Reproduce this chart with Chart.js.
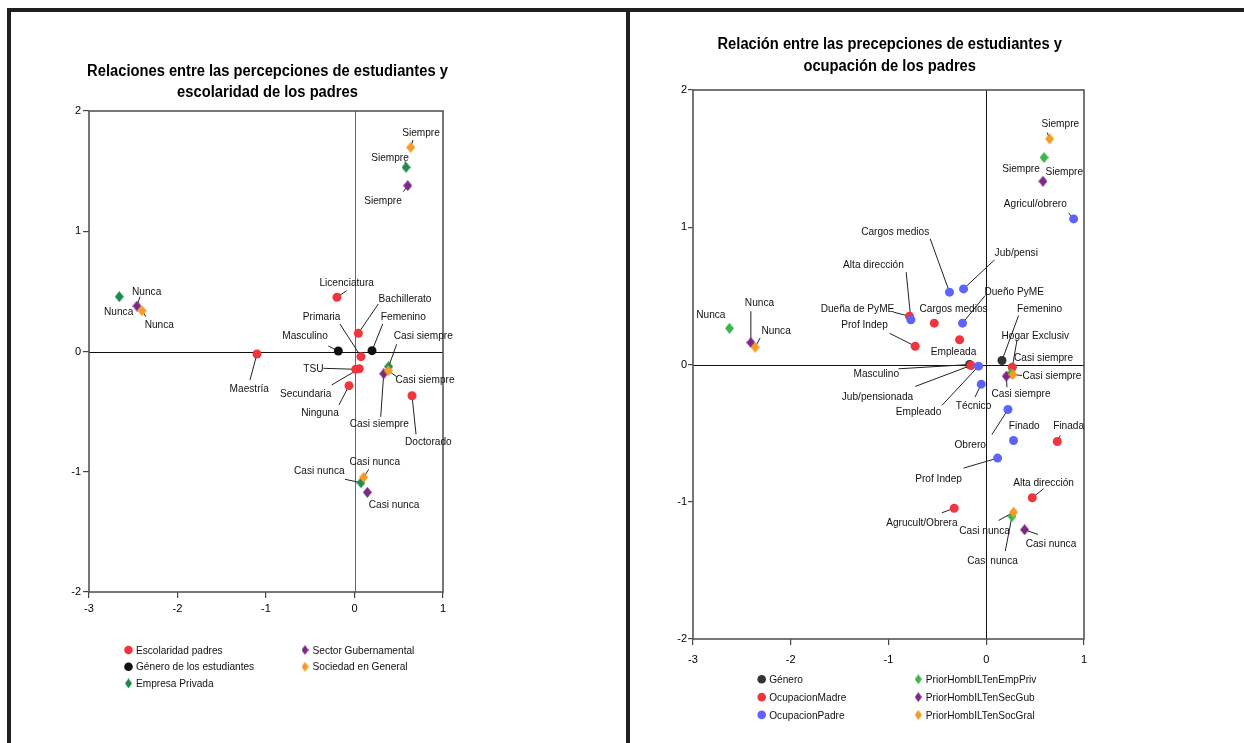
<!DOCTYPE html>
<html>
<head>
<meta charset="utf-8">
<script src="https://cdn.jsdelivr.net/npm/chart.js@4/dist/chart.umd.min.js"></script>
<style>
  html, body { margin: 0; padding: 0; background: #fff; }
  body { width: 1244px; height: 743px; position: relative; overflow: hidden; }
  .bar { position: absolute; background: #231f20; }
  .panel { position: absolute; top: 12px; height: 731px; }
  canvas { display: block; }
</style>
</head>
<body>
<div class="bar" style="left:7px;top:8px;width:1237px;height:4px"></div>
<div class="bar" style="left:7px;top:8px;width:4px;height:735px"></div>
<div class="bar" style="left:626px;top:8px;width:4px;height:735px"></div>
<div class="panel" style="left:11px;width:615px"><canvas id="c1" width="615" height="731"></canvas></div>
<div class="panel" style="left:630px;width:614px"><canvas id="c2" width="614" height="731"></canvas></div>

<script>
const FONT = '"Liberation Sans", Arial, sans-serif';
const TEXT_SQUEEZE = 0.88;

// ---------- shared axes ----------
const ejeX = [-3, -2, -1, 0, 1];
const ejeY = [-2, -1, 0, 1, 2];
const percepciones = ['Siempre', 'Casi siempre', 'Casi nunca', 'Nunca'];

// ---------- panel 1: escolaridad de los padres ----------
const tituloEscolaridad = ['Relaciones entre las percepciones de estudiantes y', 'escolaridad de los padres'];

const escolaridadNombres = ['Licenciatura', 'Bachillerato', 'Primaria', 'Maestría', 'TSU', 'Secundaria', 'Ninguna', 'Doctorado'];
const escolaridadX = [-0.198, 0.043, 0.073, -1.102, 0.014, 0.054, -0.062, 0.650];
const escolaridadY = [0.451, 0.151, -0.043, -0.021, -0.148, -0.143, -0.284, -0.368];

const generoNombres = ['Masculino', 'Femenino'];
const generoEstX = [-0.183, 0.198];
const generoEstY = [0.004, 0.007];

const empresaPrivadaX = [0.582, 0.386, 0.073, -2.658];
const empresaPrivadaY = [1.532, -0.126, -1.091, 0.456];
const sectorGubX = [0.601, 0.330, 0.145, -2.458];
const sectorGubY = [1.379, -0.185, -1.171, 0.378];
const sociedadX = [0.635, 0.382, 0.104, -2.401];
const sociedadY = [1.698, -0.160, -1.046, 0.339];

// ---------- panel 2: ocupación de los padres ----------
const tituloOcupacion = ['Relación entre las precepciones de estudiantes y', 'ocupación de los padres'];

const generoX = [-0.170, 0.161];
const generoY = [0.000, 0.029];

const madreNombres = ['Dueña de PyME', 'Cargos medios', 'Prof Indep', 'Empleada', 'Jub/pensionada', 'Hogar Exclusiv', 'Finada', 'Alta dirección', 'Agrucult/Obrera'];
const madreX = [-0.785, -0.532, -0.727, -0.273, -0.157, 0.266, 0.727, 0.471, -0.328];
const madreY = [0.352, 0.301, 0.133, 0.180, -0.007, -0.020, -0.561, -0.971, -1.047];

const padreNombres = ['Agricul/obrero', 'Cargos medios', 'Jub/pensi', 'Alta dirección', 'Dueño PyME', 'Empleado', 'Técnico', 'Obrero', 'Finado', 'Prof Indep'];
const padreX = [0.894, -0.376, -0.232, -0.771, -0.243, -0.079, -0.051, 0.222, 0.279, 0.116];
const padreY = [1.061, 0.527, 0.551, 0.326, 0.301, -0.012, -0.143, -0.328, -0.554, -0.682];

const empPrivX = [0.591, 0.253, 0.263, -2.627];
const empPrivY = [1.508, -0.063, -1.107, 0.264];
const secGubX = [0.580, 0.205, 0.392, -2.408];
const secGubY = [1.335, -0.085, -1.204, 0.160];
const socGralX = [0.648, 0.273, 0.279, -2.364];
const socGralY = [1.644, -0.073, -1.076, 0.126];

// ---------- label placement: [text dx, text dy, leader dx, leader dy] in px from the marker ----------
const rotEscolaridad = [[9.7,-14.6,9.7,-6.6],[46.7,-35,20,-29.3],[-39.3,-39.4,-21,-32.7],[-7.7,34.7,-7,26],
  [-42.4,0,-32.4,-1],[-53.6,25.3,-27.6,16.3],[-29,27.6,-10,19.3],[16.3,46.3,4,38.6]];
const rotGeneroEst = [[-33.3,-15,-10,-5],[31.3,-33.4,10.7,-26.7]];
const rotEmpresa = [[-16,-9.3,-1,-6],[34.6,-30.7,8,-22.4],[-41.7,-12,-16,-3.4],[-0.6,15.6,null,null]];
const rotSector = [[-24.7,15.3,-4.4,6],[-4.4,49.6,-3,43],[26.7,12.7,null,null],[9.7,-14.3,3,-9.3]];
const rotSociedad = [[10.3,-14.3,2.3,-7.3],[36.7,9.3,8.4,6],[11,-15.3,5,-8],[17.3,13.6,4,6]];

const rotGenero = [[-93.4,9.3,-71.1,4.3],[37.6,-51.7,16.6,-45]];
const rotMadre = [[-52,-7.4,-16,-4],[19.3,-14.4,null,null],[-50.7,-21.4,-25.7,-13],[-6,12.4,null,null],
  [-93.4,31,-55.7,21],[23,-31.7,4.7,-26.7],[11.3,-15.7,3,-6],[11.3,-14.6,11.3,-9],[-32.3,15,-12.3,4.6]];
const rotPadre = [[-38.3,-15,-5,-6],[-54.3,-60.7,-19.3,-53.4],[52.7,-35.6,31,-29],[-37.4,-55,-4.7,-47.6],
  [51.7,-31.7,22.7,-27.7],[-60,46,-36.6,39.3],[-7.7,21.3,-6.3,13],[-37.7,35.3,-16,25],[10.7,-14.7,null,null],[-59,20.6,-34,10]];
const rotEmpPriv = [[-23,11.3,null,null],[32.6,-15,6,-6],[-19.4,44.7,-6.7,34.7],[-18.6,-13.4,null,null]];
const rotSecGub = [[21.3,-9,null,null],[14.7,17.6,0.7,11],[26.4,14,13.4,4.7],[8.6,-39.3,0,-31.3]];
const rotSocGral = [[10.7,-15,-2.3,-6.3],[39,1,9,1],[-29,19,-15,8.3],[21,-16,5,-9.4]];

// ---------- helpers ----------
function pts(xs, ys) { return xs.map((x, i) => ({ x: x, y: ys[i] })); }

function diamond(color, w, h) {
  const c = document.createElement('canvas');
  c.width = w; c.height = h;
  const g = c.getContext('2d');
  g.fillStyle = color;
  g.beginPath();
  g.moveTo(w / 2, 0); g.lineTo(w, h / 2); g.lineTo(w / 2, h); g.lineTo(0, h / 2);
  g.closePath(); g.fill();
  return c;
}

function squeezedText(ctx, text, x, y, sx) {
  ctx.save();
  ctx.translate(x, y);
  ctx.scale(sx, 1);
  ctx.fillText(text, 0, 0);
  ctx.restore();
}

function circleSet(label, xs, ys, names, layout, color, order) {
  return { label, data: pts(xs, ys), names, layout, backgroundColor: color, borderWidth: 0,
           pointStyle: 'circle', pointRadius: 4.5, order, markerColor: color };
}
function diamondSet(label, xs, ys, names, layout, color, order) {
  return { label, data: pts(xs, ys), names, layout, backgroundColor: color, borderWidth: 0,
           pointStyle: diamond(color, 9, 11), pointRadius: 5, order, markerColor: color, diamond: true };
}

// frame, zero lines, leader lines, point labels, title and column legend
const panelDecor = {
  id: 'panelDecor',
  beforeDatasetsDraw(chart, args, opts) {
    const ctx = chart.ctx, a = chart.chartArea;
    const xs = chart.scales.x, ys = chart.scales.y;
    ctx.save();
    // zero lines
    ctx.lineWidth = 1;
    ctx.strokeStyle = opts.zeroV;
    const x0 = Math.round(xs.getPixelForValue(0)) + 0.5;
    ctx.beginPath(); ctx.moveTo(x0, a.top); ctx.lineTo(x0, a.bottom); ctx.stroke();
    ctx.strokeStyle = opts.zeroH;
    const y0 = Math.round(ys.getPixelForValue(0)) + 0.5;
    ctx.beginPath(); ctx.moveTo(a.left, y0); ctx.lineTo(a.right, y0); ctx.stroke();
    // plot frame
    ctx.strokeStyle = '#555';
    ctx.lineWidth = 1.6;
    ctx.strokeRect(a.left, a.top, a.right - a.left, a.bottom - a.top);
    // leader lines
    ctx.strokeStyle = '#222';
    ctx.lineWidth = 1;
    chart.data.datasets.forEach((ds, i) => {
      const meta = chart.getDatasetMeta(i);
      meta.data.forEach((el, j) => {
        const r = ds.layout[j];
        if (r[2] === null) return;
        ctx.beginPath();
        ctx.moveTo(el.x, el.y);
        ctx.lineTo(el.x + r[2], el.y + r[3]);
        ctx.stroke();
      });
    });
    ctx.restore();
  },
  afterDatasetsDraw(chart) {
    const ctx = chart.ctx;
    ctx.save();
    ctx.fillStyle = '#111';
    ctx.font = '11.5px ' + FONT;
    ctx.textAlign = 'center';
    ctx.textBaseline = 'middle';
    chart.data.datasets.forEach((ds, i) => {
      const meta = chart.getDatasetMeta(i);
      meta.data.forEach((el, j) => {
        const r = ds.layout[j];
        squeezedText(ctx, ds.names[j], el.x + r[0], el.y + r[1], TEXT_SQUEEZE);
      });
    });
    ctx.restore();
  },
  afterDraw(chart, args, opts) {
    const ctx = chart.ctx;
    ctx.save();
    // title
    ctx.fillStyle = '#000';
    ctx.font = 'bold 16px ' + FONT;
    ctx.textAlign = 'center';
    ctx.textBaseline = 'middle';
    opts.title.forEach((line, k) => squeezedText(ctx, line, opts.titleX, opts.titleY[k], 0.92));
    // legend in columns of three
    ctx.font = '11.5px ' + FONT;
    ctx.textAlign = 'left';
    chart.data.datasets.forEach((ds, i) => {
      const col = Math.floor(i / 3), row = i % 3;
      const mx = opts.legendX[col], my = opts.legendY + row * opts.legendRow;
      if (ds.diamond) {
        const img = diamond(ds.markerColor, 7, 10);
        ctx.drawImage(img, mx - 3.5, my - 5);
      } else {
        ctx.fillStyle = ds.markerColor;
        ctx.beginPath(); ctx.arc(mx, my, 4.3, 0, Math.PI * 2); ctx.fill();
      }
      ctx.fillStyle = '#111';
      squeezedText(ctx, ds.label, mx + opts.legendGap, my + 0.5, TEXT_SQUEEZE);
    });
    ctx.restore();
  }
};

function makeOptions(cfg) {
  return {
    responsive: false,
    animation: false,
    devicePixelRatio: 1,
    events: [],
    layout: { padding: cfg.padding },
    plugins: {
      legend: { display: false },
      tooltip: { enabled: false },
      title: { display: false },
      panelDecor: cfg.decor
    },
    scales: {
      x: {
        type: 'linear', min: ejeX[0], max: ejeX[ejeX.length - 1],
        afterBuildTicks: s => { s.ticks = ejeX.map(v => ({ value: v })); },
        afterFit: s => { s.height = 34; },
        ticks: { font: { family: FONT, size: 11 }, color: '#000', padding: cfg.xPad,
                 maxRotation: 0, autoSkip: false, callback: v => String(v) },
        grid: { drawOnChartArea: false, drawTicks: true, tickLength: 6, color: '#444', lineWidth: 1.2 },
        border: { display: false }
      },
      y: {
        type: 'linear', min: ejeY[0], max: ejeY[ejeY.length - 1],
        afterBuildTicks: s => { s.ticks = ejeY.map(v => ({ value: v })); },
        afterFit: s => { s.width = 28; },
        ticks: { font: { family: FONT, size: 11 }, color: '#000', padding: cfg.yPad,
                 autoSkip: false, callback: v => String(v) },
        grid: { drawOnChartArea: false, drawTicks: true, tickLength: cfg.yTick, color: '#444', lineWidth: 1.2 },
        border: { display: false }
      }
    }
  };
}

// ---------- panel 1 ----------
new Chart(document.getElementById('c1'), {
  type: 'scatter',
  data: {
    datasets: [
      circleSet('Escolaridad padres', escolaridadX, escolaridadY, escolaridadNombres, rotEscolaridad, '#f0353e', 4),
      circleSet('Género de los estudiantes', generoEstX, generoEstY, generoNombres, rotGeneroEst, '#111111', 5),
      diamondSet('Empresa Privada', empresaPrivadaX, empresaPrivadaY, percepciones, rotEmpresa, '#1e8b4c', 2),
      diamondSet('Sector Gubernamental', sectorGubX, sectorGubY, percepciones, rotSector, '#7a2a85', 1),
      diamondSet('Sociedad en General', sociedadX, sociedadY, percepciones, rotSociedad, '#f79a22', 0)
    ]
  },
  options: makeOptions({
    padding: { left: 50, right: 183, top: 99, bottom: 117 },
    xPad: 4, yPad: 2, yTick: 6,
    decor: { zeroV: '#666', zeroH: '#111', title: tituloEscolaridad, titleX: 256.5, titleY: [60, 80.5],
             legendX: [117.5, 294], legendY: 638, legendRow: 16.7, legendGap: 7.5 }
  }),
  plugins: [panelDecor]
});

// ---------- panel 2 ----------
new Chart(document.getElementById('c2'), {
  type: 'scatter',
  data: {
    datasets: [
      circleSet('Género', generoX, generoY, generoNombres, rotGenero, '#333333', 5),
      circleSet('OcupacionMadre', madreX, madreY, madreNombres, rotMadre, '#f0353e', 4),
      circleSet('OcupacionPadre', padreX, padreY, padreNombres, rotPadre, '#5d63ff', 3),
      diamondSet('PriorHombILTenEmpPriv', empPrivX, empPrivY, percepciones, rotEmpPriv, '#3bb54a', 2),
      diamondSet('PriorHombILTenSecGub', secGubX, secGubY, percepciones, rotSecGub, '#7a2a85', 1),
      diamondSet('PriorHombILTenSocGral', socGralX, socGralY, percepciones, rotSocGral, '#f79a22', 0)
    ]
  },
  options: makeOptions({
    padding: { left: 35, right: 160, top: 78, bottom: 70 },
    xPad: 8, yPad: 1, yTick: 5,
    decor: { zeroV: '#111', zeroH: '#111', title: tituloOcupacion, titleX: 259.7, titleY: [33, 54.7],
             legendX: [131.7, 288.3], legendY: 667.3, legendRow: 17.8, legendGap: 7.5 }
  }),
  plugins: [panelDecor]
});
</script>
</body>
</html>
